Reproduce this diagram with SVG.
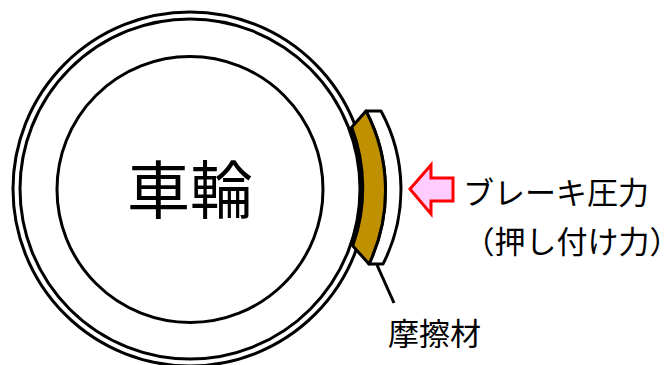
<svg xmlns="http://www.w3.org/2000/svg" width="668" height="365" viewBox="0 0 668 365">
<style>
.l{fill:none;stroke:#000;stroke-width:3}
.t{font-family:"Noto Sans CJK JP","Liberation Sans",sans-serif;fill:#000;font-size:31px}
.h{font-feature-settings:"halt"}
</style>
<rect width="668" height="365" fill="#fff"/>
<g id="wheel">
<circle class="l" cx="190" cy="189" r="177"/>
<circle class="l" cx="190" cy="189" r="170"/>
<circle class="l" cx="190" cy="189.500" r="133"/>
<text class="t" x="127" y="213" style="font-size:63px">車輪</text>
</g>
<g id="backing">
<path d="M366 111H381A164 164 0 0 1 383 264H369A172 172 0 0 0 366 111Z" fill="#fff" stroke="#000" stroke-width="3" stroke-linejoin="round"/>
</g>
<g id="pad">
<path d="M366 111L351 128A172 172 0 0 1 352 245L369 264A172 172 0 0 0 366 111Z" fill="#bf9000" stroke="#000" stroke-width="3" stroke-linejoin="round"/>
<path d="M351 128A172 172 0 0 1 352 245" fill="none" stroke="#000" stroke-width="5"/>
<text class="t" x="388" y="345">摩擦材</text>
</g>
<g id="force">
<path d="M410 189L431 165V178H453V201H431V214Z" fill="#fcf" stroke="#f00" stroke-width="3"/>
<text class="t" x="463" y="204">ブレーキ圧力</text>
<text class="t" x="479" y="253"><tspan class="h">（</tspan>押し付け力<tspan class="h">）</tspan></text>
</g>
<g id="connectors">
<path class="l" d="M377 265L394 303"/>
</g>
</svg>
